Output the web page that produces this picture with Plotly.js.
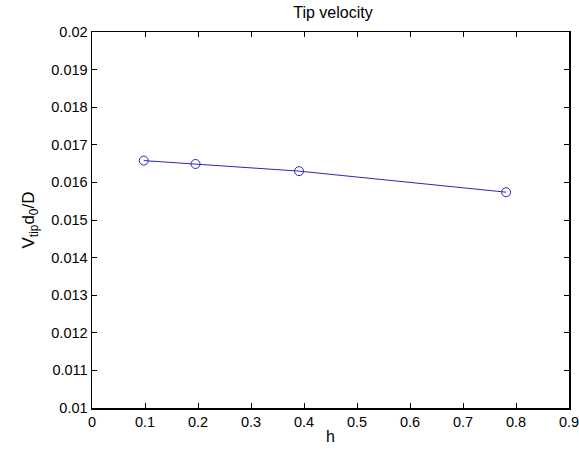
<!DOCTYPE html>
<html>
<head>
<meta charset="utf-8">
<script src="https://cdn.plot.ly/plotly-3.0.1.min.js"></script>
<style>html,body{margin:0;padding:0;background:#fff;}#chart{width:579px;height:449px;}</style>
</head>
<body>
<div id="chart"></div>
<script>
const hValues = [0.0977, 0.1953, 0.3906, 0.7813];
const tipVelocity = [0.01658, 0.01649, 0.01630, 0.01574];
const xTicks = [0, 0.1, 0.2, 0.3, 0.4, 0.5, 0.6, 0.7, 0.8, 0.9];
const xTickLabels = ['0', '0.1', '0.2', '0.3', '0.4', '0.5', '0.6', '0.7', '0.8', '0.9'];
const yTicks = [0.01, 0.011, 0.012, 0.013, 0.014, 0.015, 0.016, 0.017, 0.018, 0.019, 0.02];
const yTickLabels = ['0.01', '0.011', '0.012', '0.013', '0.014', '0.015', '0.016', '0.017', '0.018', '0.019', '0.02'];

const trace = {
  x: hValues, y: tipVelocity, type: 'scatter', mode: 'lines+markers',
  line: {color: '#2b2bb0', width: 1},
  marker: {symbol: 'circle-open', size: 9, color: '#2b2bb0', line: {width: 1, color: '#2b2bb0'}},
  hoverinfo: 'none'
};
const font = {family: 'Liberation Sans, Arial, Helvetica, sans-serif', size: 14, color: '#000'};
const layout = {
  width: 579, height: 449,
  margin: {l: 92, r: 10, t: 32, b: 41},
  paper_bgcolor: '#fff', plot_bgcolor: '#fff',
  font: font,
  showlegend: false,
  title: {text: 'Tip velocity', font: {family: font.family, size: 16, color: '#000'}, x: 0.575, xanchor: 'center', y: 0.972, yanchor: 'middle'},
  xaxis: {
    range: [0, 0.9], tickvals: xTicks, ticktext: xTickLabels,
    ticks: 'inside', ticklen: 5, tickwidth: 1, tickcolor: '#000',
    showline: true, linecolor: '#000', linewidth: 1.5, mirror: 'ticks',
    showgrid: false, zeroline: false, ticklabeloverflow: 'allow',
    tickfont: {family: font.family, size: 14.5, color: '#000'},
    title: {text: 'h', font: {family: font.family, size: 16, color: '#000'}, standoff: 2}
  },
  yaxis: {
    range: [0.01, 0.02], tickvals: yTicks, ticktext: yTickLabels,
    ticks: 'inside', ticklen: 5, tickwidth: 1, tickcolor: '#000',
    showline: true, linecolor: '#000', linewidth: 1.5, mirror: 'ticks',
    showgrid: false, zeroline: false, ticklabeloverflow: 'allow',
    tickfont: {family: font.family, size: 14.5, color: '#000'},
    title: {text: 'V<sub>tip</sub>d<sub>0</sub>/D', font: {family: font.family, size: 17, color: '#000'}, standoff: 12}
  }
};
Plotly.newPlot('chart', [trace], layout, {staticPlot: true, displayModeBar: false});
</script>
</body>
</html>
